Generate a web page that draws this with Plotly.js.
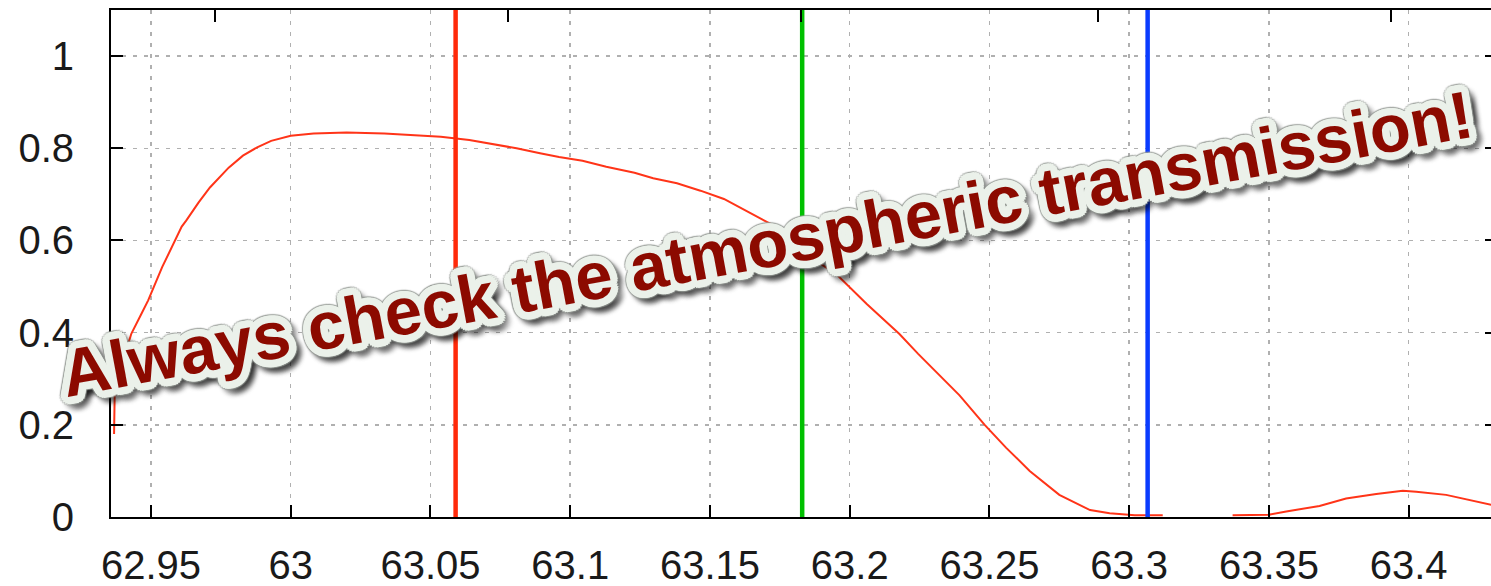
<!DOCTYPE html>
<html>
<head>
<meta charset="utf-8">
<script src="https://cdn.plot.ly/plotly-3.0.1.min.js"></script>
<style>
html,body{margin:0;padding:0;background:#fff;overflow:hidden;width:1491px;height:586px;}
#chart{width:1500px;height:586px;}
</style>
</head>
<body>
<div id="chart"></div>
<script>
// Transmission curve (wavelength-like axis)
const curveX = [62.9368,62.9370,62.9400,62.9430,62.9465,62.9490,62.9540,62.9610,62.9626,62.9670,62.9711,62.9778,62.9829,62.9880,62.9930,63.0000,63.0082,63.0200,63.0335,63.0450,63.0537,63.0639,63.0723,63.0808,63.0892,63.0960,63.1044,63.1129,63.1230,63.1297,63.1382,63.1466,63.1550,63.1635,63.1720,63.1800,63.1878,63.1950,63.2061,63.2178,63.2245,63.2393,63.2483,63.2560,63.2644,63.2750,63.2860,63.2930,63.3000,63.3020,63.3120,63.3240,63.3370,63.3500,63.3562,63.3681,63.3776,63.3884,63.3979,63.4027,63.4134,63.4241,63.4300];
const curveY = [0.180,0.260,0.340,0.398,0.440,0.470,0.542,0.630,0.643,0.682,0.715,0.758,0.784,0.802,0.816,0.827,0.832,0.834,0.832,0.828,0.825,0.818,0.809,0.800,0.789,0.781,0.773,0.760,0.747,0.735,0.724,0.708,0.690,0.662,0.635,0.595,0.556,0.528,0.462,0.397,0.354,0.264,0.200,0.150,0.100,0.048,0.015,0.008,0.004,0.004,0.004,null,0.004,0.005,0.012,0.024,0.040,0.050,0.057,0.055,0.048,0.033,0.026];

// Vertical marker lines
const markerX = [63.059, 63.183, 63.3066];
const markerColors = ['#ff2a0a', '#00c000', '#0a3cff'];

// Axis ticks
const xTickVals = [62.95,63.0,63.05,63.1,63.15,63.2,63.25,63.3,63.35,63.4];
const xTickText = ['62.95','63','63.05','63.1','63.15','63.2','63.25','63.3','63.35','63.4'];
const yTickVals = [0,0.2,0.4,0.6,0.8,1];
const yTickText = ['0','0.2','0.4','0.6','0.8','1'];
const topTickVals = [62.9729,63.0777,63.1825,63.2887,63.3938];
const xRange = [62.9357, 63.4316];
const yRange = [0, 1.1];

const noteText = 'Always check the atmospheric transmission!';

const traces = [{
  x: curveX, y: curveY, type: 'scatter', mode: 'lines',
  line: {color: '#ff3418', width: 2}, connectgaps: false, hoverinfo: 'skip'
}];
markerX.forEach((v, i) => {
  traces.push({
    x: [v, v], y: [yRange[0], yRange[1]], type: 'scatter', mode: 'lines',
    line: {color: markerColors[i], width: 4.5}, cliponaxis: false, hoverinfo: 'skip'
  });
});
// invisible trace for top axis
traces.push({x: [xRange[0]], y: [0], xaxis: 'x2', yaxis: 'y', mode: 'markers', marker: {opacity: 0}, hoverinfo: 'skip'});

// halo + drop shadow for the sticker-like note
function ring(r, n, color, blur, ox, oy) {
  const out = [];
  for (let k = 0; k < n; k++) {
    const a = 2 * Math.PI * k / n;
    out.push((ox + r * Math.cos(a)).toFixed(1) + 'px ' + (oy + r * Math.sin(a)).toFixed(1) + 'px ' + blur + 'px ' + color);
  }
  return out;
}
const shadow = [].concat(
  ring(3.5, 12, '#ebf1ea', 0, 0, 0),
  ring(7.5, 20, '#ebf1ea', 0, 0, 0),
  ring(8.7, 20, 'rgba(150,155,150,0.6)', 1, 0, 0),
  ring(8, 14, 'rgba(0,0,0,0.28)', 5, 4, 6)
).join(', ');

const gridCol = '#b0b0b0';
const layout = {
  width: 1500, height: 586,
  margin: {l: 111, r: 3, t: 10, b: 69, pad: 0},
  paper_bgcolor: '#ffffff', plot_bgcolor: '#ffffff',
  showlegend: false,
  font: {family: 'Liberation Sans, Arial, sans-serif', size: 40, color: '#1a1a1a'},
  xaxis: {
    range: xRange, tickmode: 'array', tickvals: xTickVals, ticktext: xTickText,
    ticks: 'inside', ticklen: 12, tickwidth: 2, tickcolor: '#000',
    showline: true, linecolor: '#000', linewidth: 2, mirror: true,
    showgrid: true, gridcolor: gridCol, gridwidth: 1.5, griddash: '4px,7px',
    zeroline: false, ticklabelstandoff: 12,
    tickfont: {size: 40, color: '#1a1a1a'}
  },
  xaxis2: {
    range: xRange, overlaying: 'x', side: 'top', tickmode: 'array', tickvals: topTickVals,
    showticklabels: false, ticks: 'inside', ticklen: 12, tickwidth: 2, tickcolor: '#000',
    showgrid: false, zeroline: false, showline: false
  },
  yaxis: {
    range: yRange, tickmode: 'array', tickvals: yTickVals, ticktext: yTickText,
    ticks: 'inside', ticklen: 12, tickwidth: 2, tickcolor: '#000',
    showline: true, linecolor: '#000', linewidth: 2, mirror: 'ticks',
    showgrid: true, gridcolor: gridCol, gridwidth: 1.5, griddash: '4px,7px',
    zeroline: false, ticklabelstandoff: 27,
    tickfont: {size: 40, color: '#1a1a1a'}
  },
  annotations: [{
    x: 63.1705, y: 0.594, xref: 'x', yref: 'y', showarrow: false,
    text: noteText, textangle: -10.5,
    font: {family: 'Liberation Sans, Arial, sans-serif', size: 67, weight: 700, color: '#8c0a00', shadow: shadow}
  }]
};

Plotly.newPlot('chart', traces, layout, {staticPlot: true, displayModeBar: false});
</script>
</body>
</html>
